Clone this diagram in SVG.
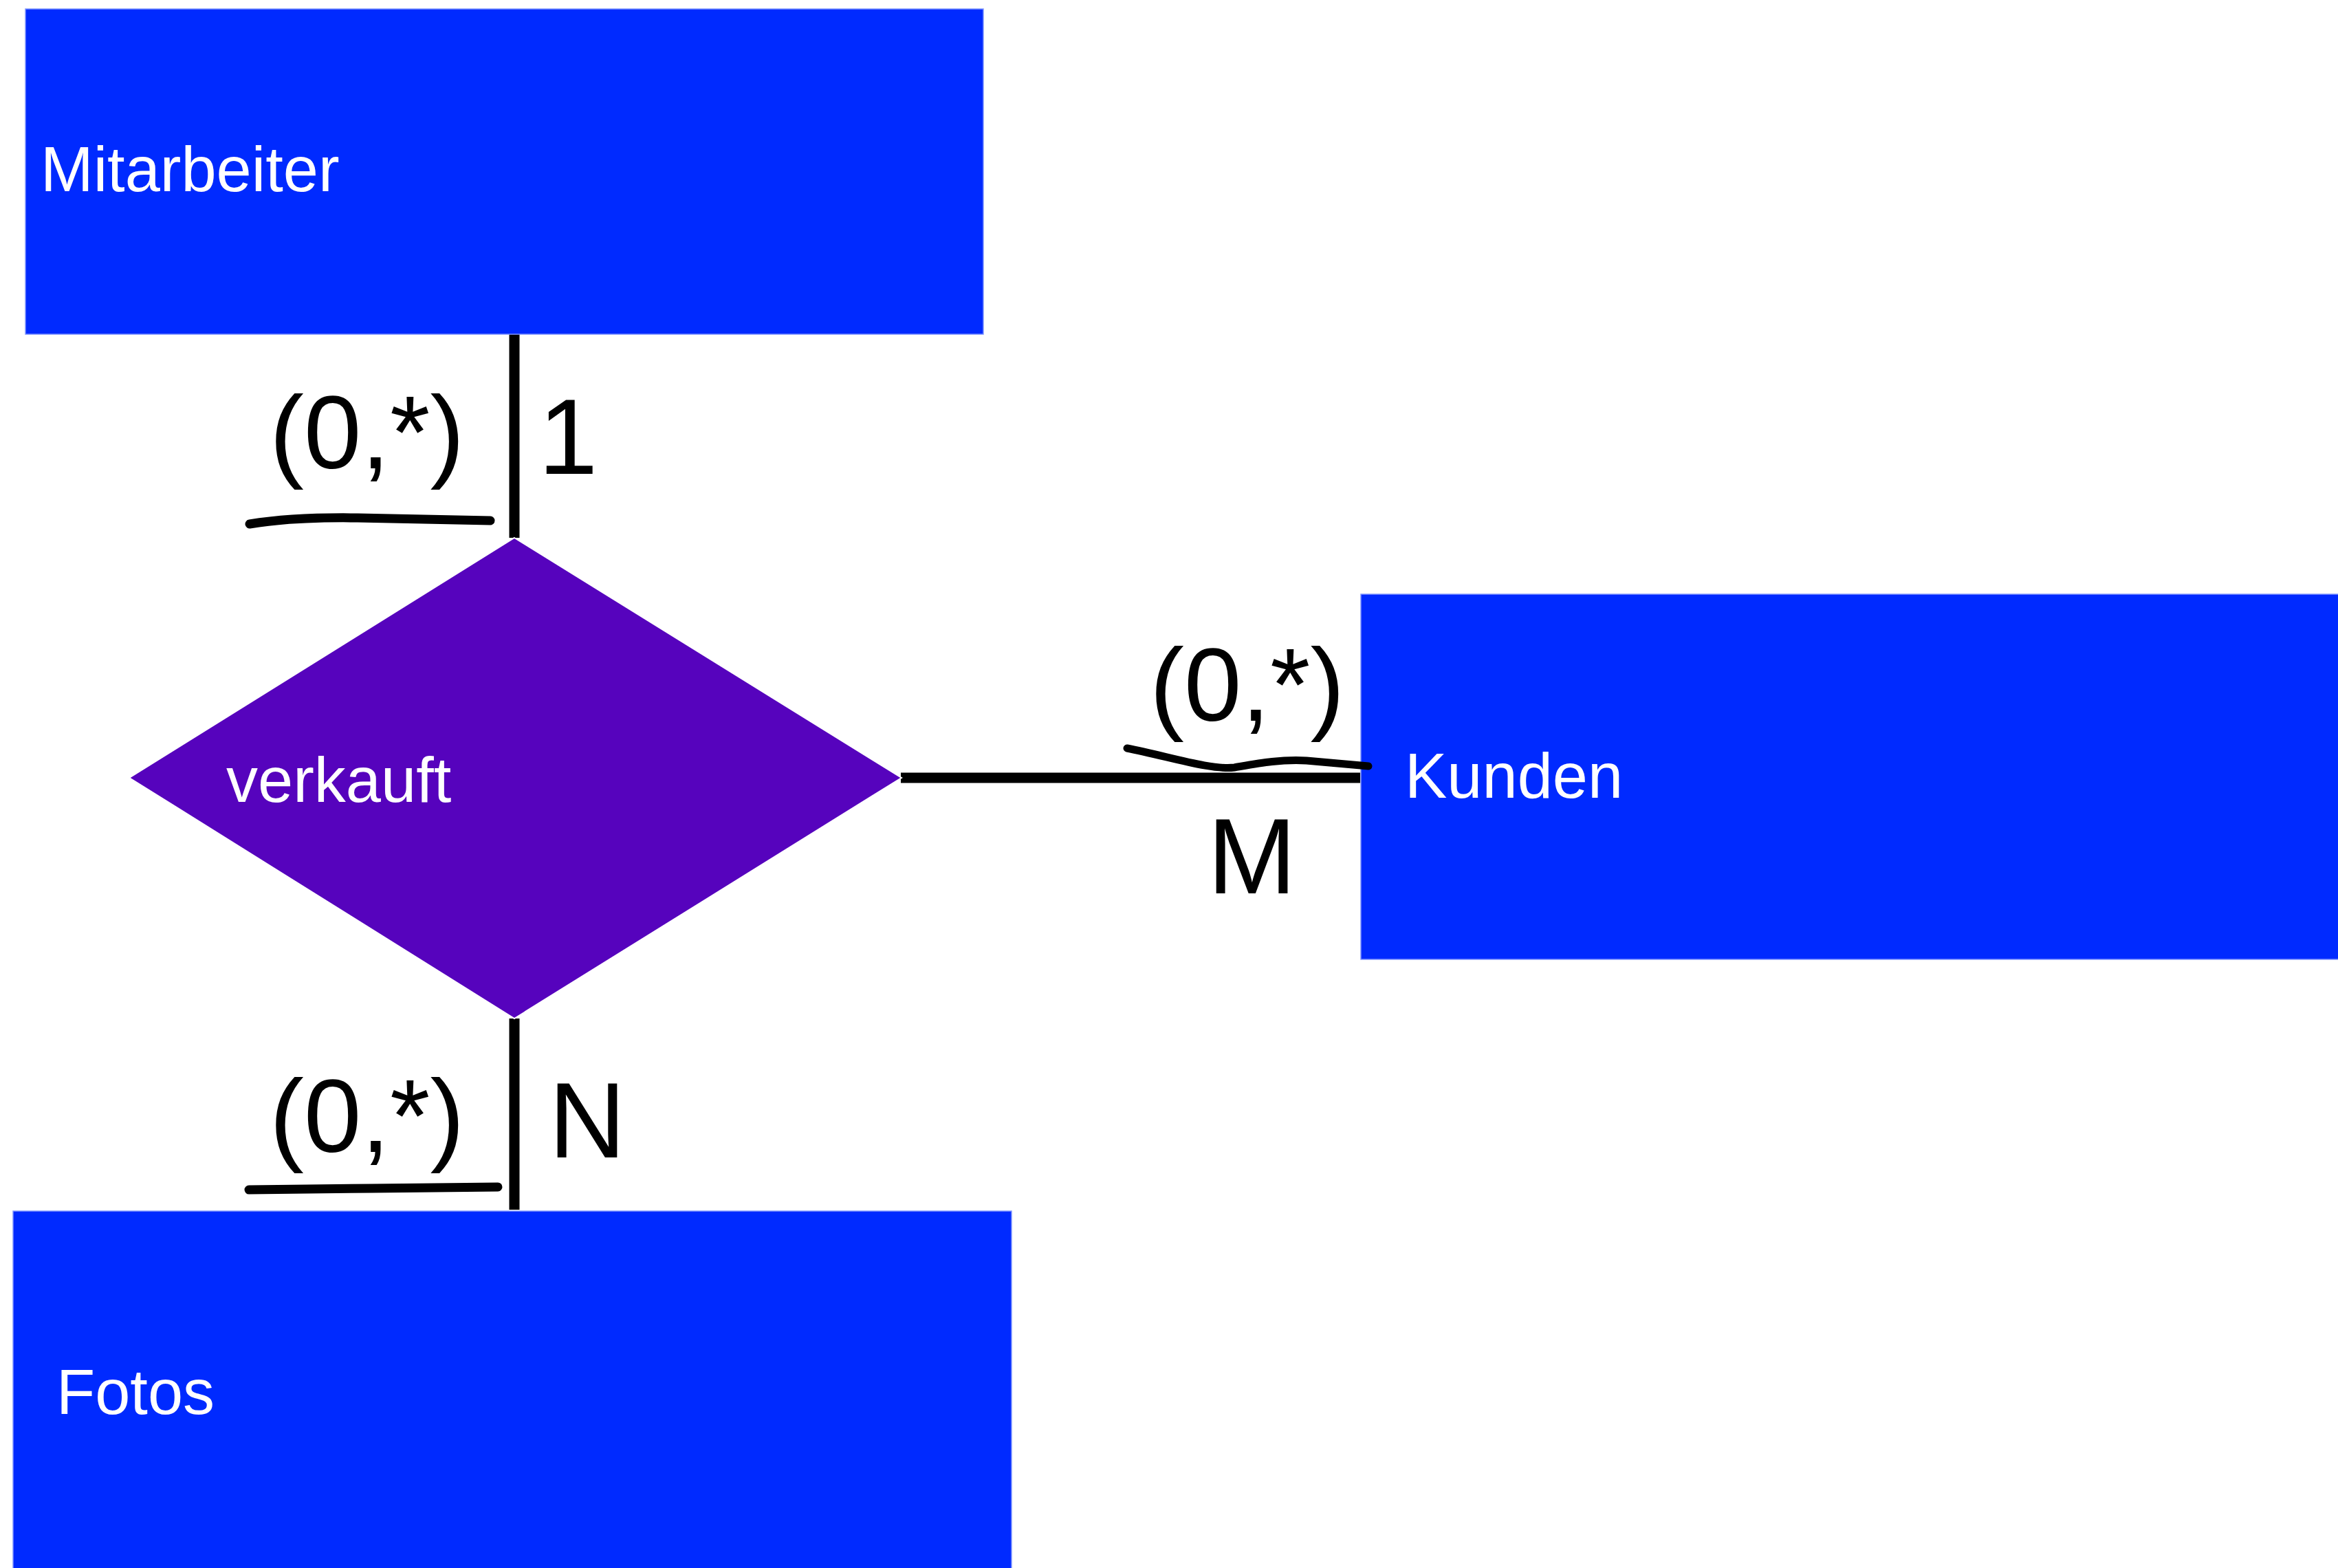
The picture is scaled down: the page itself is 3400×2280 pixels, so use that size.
<svg xmlns="http://www.w3.org/2000/svg" width="3400" height="2280" viewBox="0 0 3400 2280">
<style>
.entity{fill:#002aff;stroke:#7f95ff;stroke-width:1.5}
.rel{fill:#5603bd;stroke:#ffffff;stroke-width:2}
.name{font-family:"Liberation Sans",Arial,sans-serif;font-size:92px;fill:#ffffff}
.lbl{font-family:"Liberation Sans",Arial,sans-serif;font-size:150px;fill:#000000}
.card{font-family:"Liberation Sans",Arial,sans-serif;font-size:155px;fill:#000000}
.conn{stroke:#000000;stroke-width:15;fill:none}
.ink{stroke:#000000;fill:none;stroke-linecap:round;stroke-linejoin:round}
</style>
<rect width="3400" height="2280" fill="#ffffff"/>
<g id="connectors">
<line class="conn" x1="748" y1="486" x2="748" y2="782"/>
<line class="conn" x1="1310" y1="1131" x2="1978" y2="1131"/>
<line class="conn" x1="748" y1="1481" x2="748" y2="1759"/>
</g>
<g id="mitarbeiter">
<rect class="entity" x="37" y="13" width="1393" height="473"/>
<text class="name" x="59" y="278">Mitarbeiter</text>
</g>
<g id="verkauft">
<polygon class="rel" points="748,782 1311,1131 748,1481 188,1131"/>
<text class="name" x="329" y="1166">verkauft</text>
</g>
<g id="kunden">
<rect class="entity" x="1979" y="864" width="1430" height="531"/>
<text class="name" x="2043" y="1160">Kunden</text>
</g>
<g id="fotos">
<rect class="entity" x="19" y="1761" width="1452" height="530"/>
<text class="name" x="82" y="2056">Fotos</text>
</g>
<g id="labels">
<text class="lbl" x="392" y="681">(0,*)</text>
<text class="card" x="783" y="689">1</text>
<path class="ink" stroke-width="13" d="M 363 762 C 400 756, 450 752, 520 753 L 713 757"/>
<text class="lbl" x="1672" y="1048">(0,*)</text>
<path class="ink" stroke-width="11" d="M 1639 1088 C 1700 1100, 1760 1120, 1795 1116 C 1830 1110, 1860 1104, 1900 1106 L 1990 1114"/>
<text class="card" x="1756" y="1299">M</text>
<text class="lbl" x="392" y="1675">(0,*)</text>
<path class="ink" stroke-width="13" d="M 362 1730 L 540 1728 L 724 1726"/>
<text class="card" x="798" y="1683">N</text>
</g>
</svg>
